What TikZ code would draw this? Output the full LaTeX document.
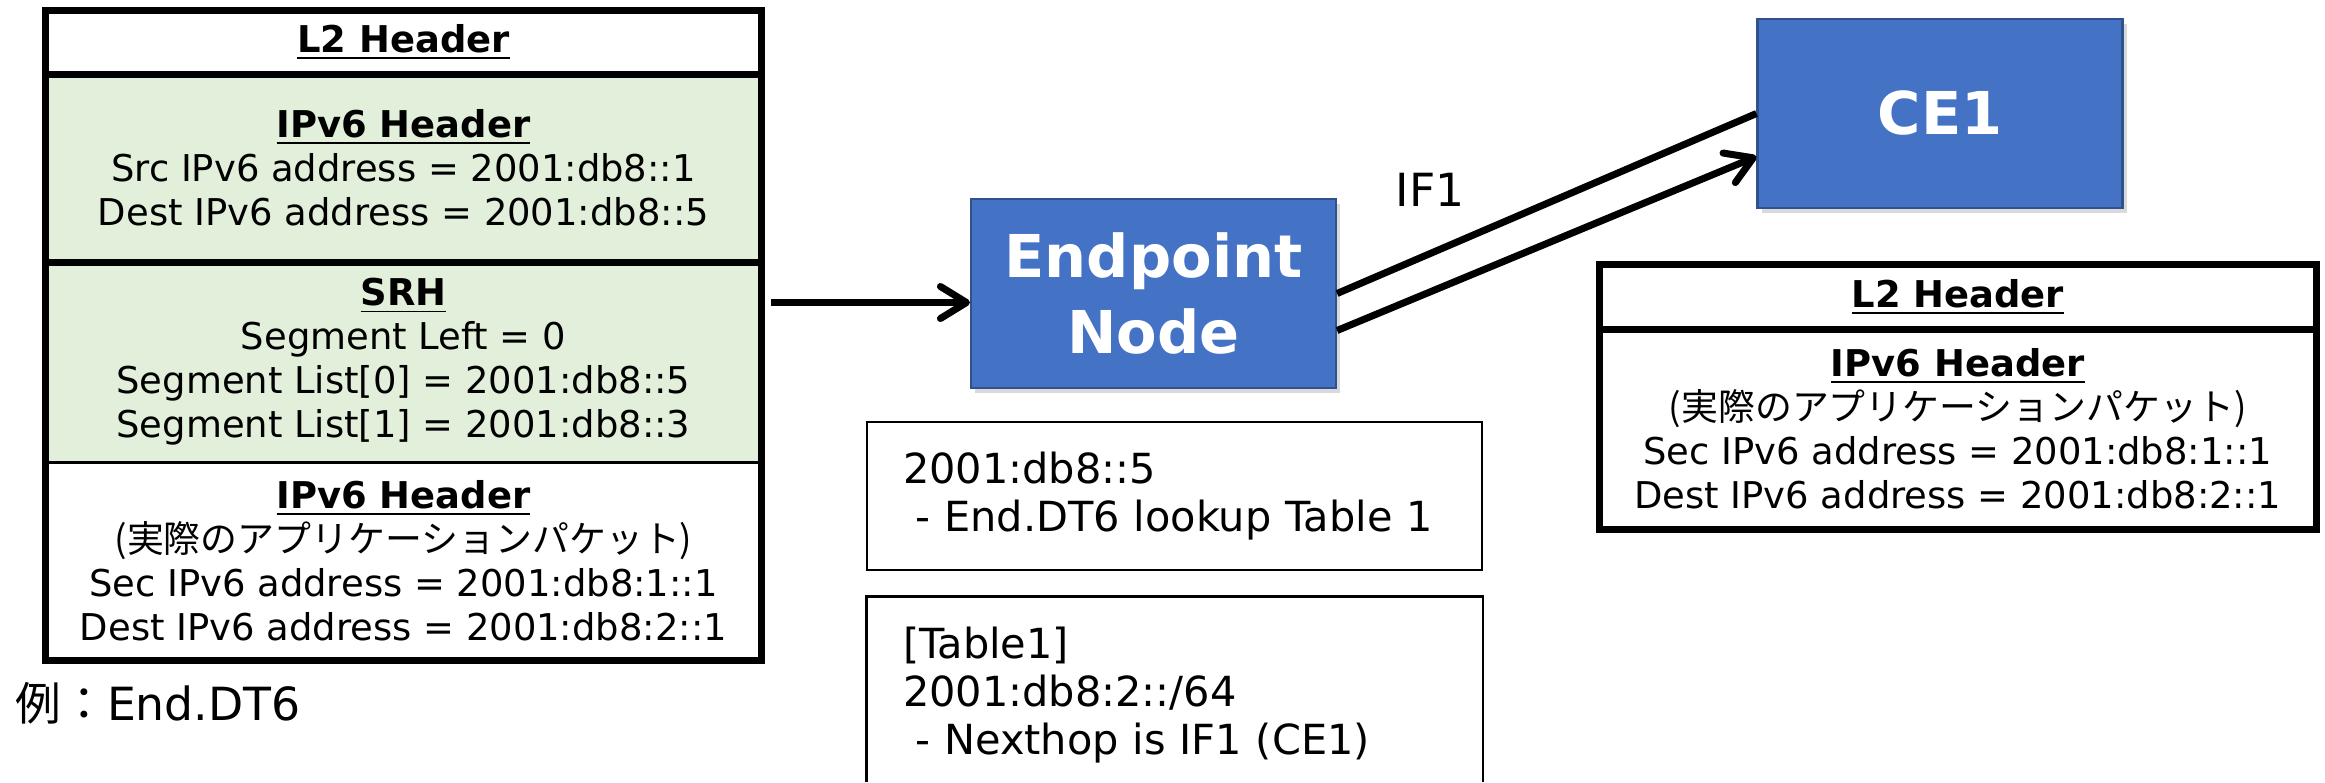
\documentclass[tikz,border=0pt]{standalone}
\usepackage{fontspec}
\setmainfont{DejaVu Sans}
\newfontfamily\jpfont{Noto Sans CJK JP}
\usetikzlibrary{arrows.meta,shadows}

\definecolor{nodeblue}{HTML}{4472C4}
\definecolor{nodeedge}{HTML}{2F528F}
\definecolor{srhgreen}{HTML}{E2EFDA}

\newcommand{\hdr}[1]{\underline{\textbf{#1}}}

\tikzset{
  pkt/.style={minimum width=7.14cm, inner sep=0pt, align=center,
    font=\fontsize{10.5}{12.5}\selectfont},
  router/.style={fill=nodeblue, draw=nodeedge, line width=0.6pt, text=white,
    minimum width=3.65cm, minimum height=1.89cm, align=center,
    font=\fontsize{16.8}{21.6}\selectfont\bfseries,
    drop shadow={shadow xshift=0.04cm, shadow yshift=-0.05cm, opacity=0.3}},
  tbl/.style={minimum width=6.15cm, text width=5.43cm, inner xsep=0.36cm,
    align=left, font=\fontsize{11.8}{13.7}\selectfont},
  fat/.style={line width=2pt},
  flow/.style={line width=2pt, -{Straight Barb[length=2.6mm,width=3.2mm,round]}}
}

\begin{document}
\begin{tikzpicture}
  \useasboundingbox (0,0) rectangle (23.25,-7.82);
  \coordinate (pagebot) at (0,-7.82);

  % Draw incoming packet
  \node[pkt, minimum height=0.62cm] (l2L) at (4.035,-0.425) {\hdr{L2 Header}};
  \node[pkt, fill=srhgreen, minimum height=1.885cm] (ipL) at (4.035,-1.6775)
    {\hdr{IPv6 Header}\\ Src IPv6 address = 2001:db8::1\\ Dest IPv6 address = 2001:db8::5};
  \node[pkt, fill=srhgreen, minimum height=2.0cm] (srhL) at (4.035,-3.62)
    {\hdr{SRH}\\ Segment Left = 0\\ Segment List[0] = 2001:db8::5\\ Segment List[1] = 2001:db8::3};
  \node[pkt, minimum height=1.975cm] (appL) at (4.035,-5.6075)
    {\hdr{IPv6 Header}\\ {\jpfont (実際のアプリケーションパケット)}\\ Sec IPv6 address = 2001:db8:1::1\\ Dest IPv6 address = 2001:db8:2::1};
  \draw[fat] (l2L.north west) rectangle (appL.south east);
  \draw[fat] (l2L.south west) -- (l2L.south east);
  \draw[fat] (ipL.south west) -- (ipL.south east);
  \draw[line width=0.8pt] (srhL.south west) -- (srhL.south east);

  \node[anchor=west, inner sep=0pt, font=\fontsize{13}{15}\selectfont] (caption) at (0.15,-7.03)
    {{\jpfont 例：}End.DT6};

  % Draw nodes
  \node[router] (ep) at (11.535,-2.935) {Endpoint\\Node};
  \node[router] (ce) at (19.40,-1.135) {CE1};

  % Draw links
  \draw[flow] ([xshift=0.1cm, yshift=-0.09cm]ep.west -| srhL.east) -- ([yshift=-0.09cm]ep.west);
  \draw[fat] (ep.east) -- (ce.west);
  \draw[flow] ([yshift=-0.37cm]ep.east) -- ([yshift=-0.43cm]ce.west);
  \node[font=\fontsize{13}{15}\selectfont] (if1) at (14.30,-1.90) {IF1};

  % Draw tables
  \node[tbl, draw, line width=0.7pt, minimum height=1.48cm] (tab1) at (11.745,-4.96)
    {2001:db8::5\\ \hspace*{0.3em}- End.DT6 lookup Table 1};
  \node[tbl, minimum height=1.96cm] (tab2) at (11.745,-6.95)
    {[Table1]\\ 2001:db8:2::/64\\ \hspace*{0.3em}- Nexthop is IF1 (CE1)};
  \draw[line width=0.7pt] (tab2.west |- pagebot) |- (tab2.north east) -- (tab2.east |- pagebot);

  % Draw outgoing packet
  \node[pkt, minimum width=7.155cm, minimum height=0.635cm] (l2R) at (19.5775,-2.9725) {\hdr{L2 Header}};
  \node[pkt, minimum width=7.155cm, minimum height=1.995cm] (appR) at (19.5775,-4.2875)
    {\hdr{IPv6 Header}\\ {\jpfont (実際のアプリケーションパケット)}\\ Sec IPv6 address = 2001:db8:1::1\\ Dest IPv6 address = 2001:db8:2::1};
  \draw[fat] (l2R.north west) rectangle (appR.south east);
  \draw[fat] (l2R.south west) -- (l2R.south east);
\end{tikzpicture}
\end{document}
